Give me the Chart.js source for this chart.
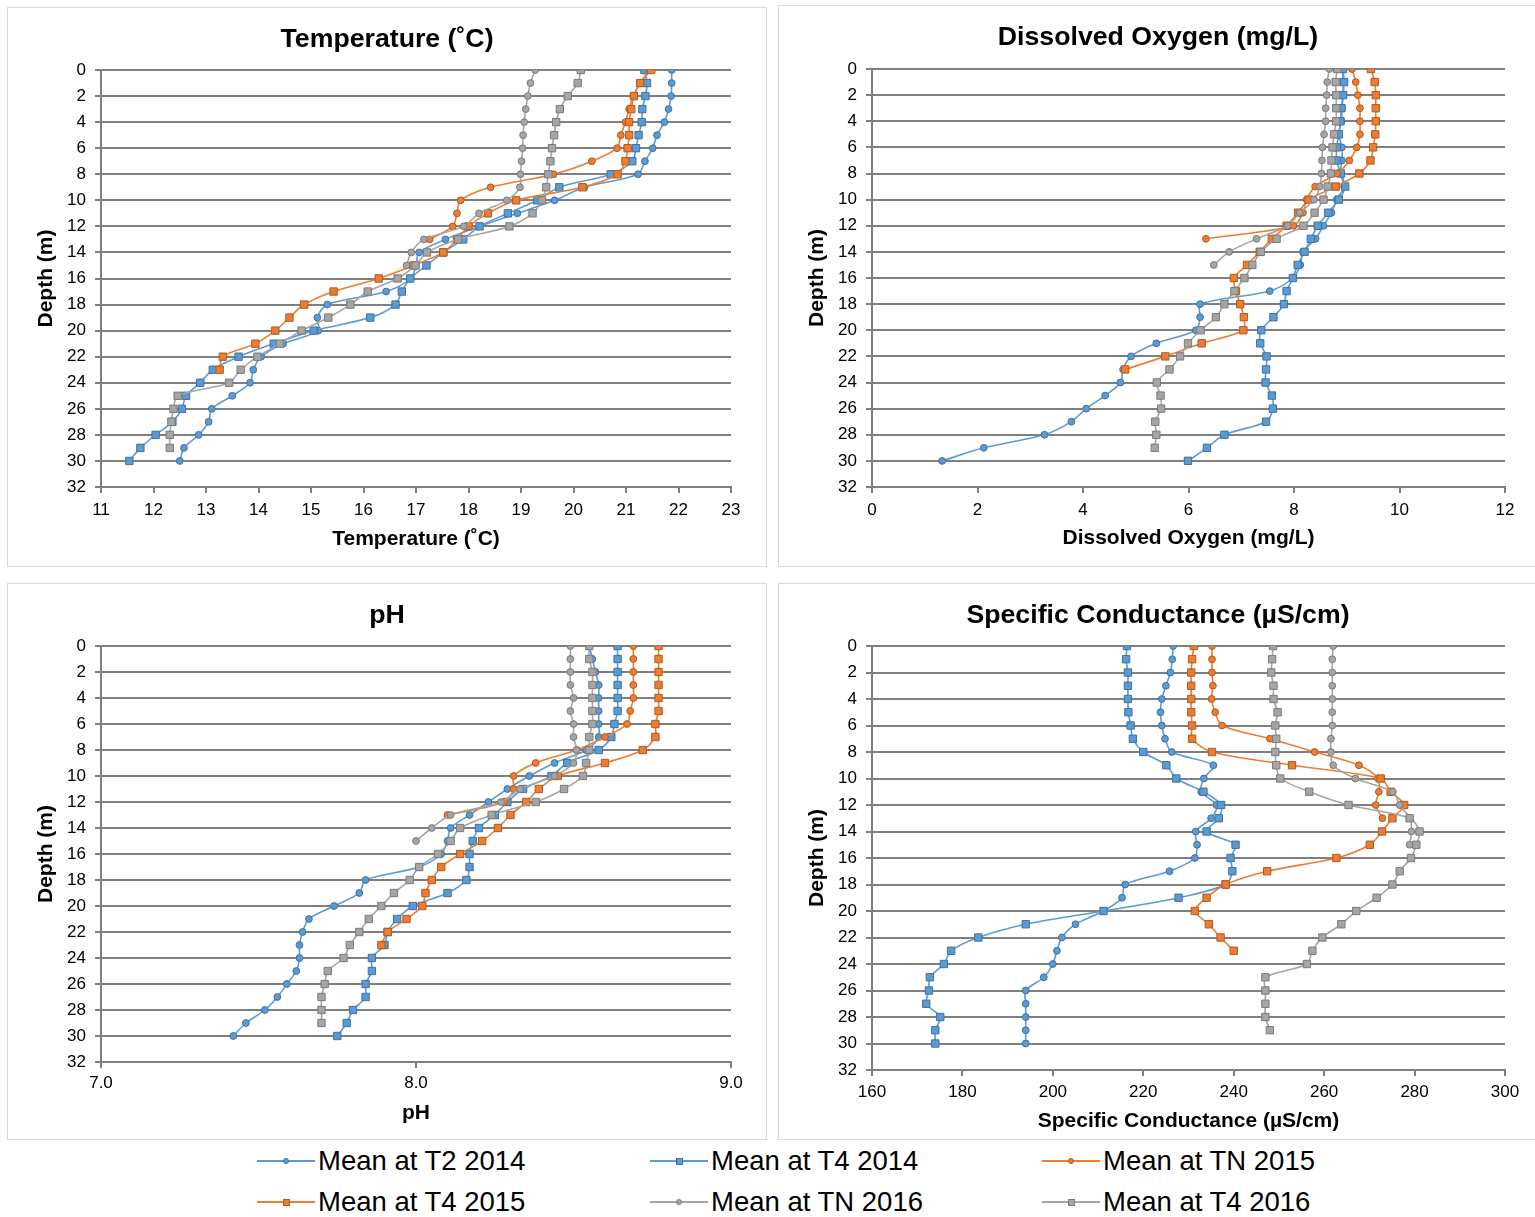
<!DOCTYPE html>
<html>
<head>
<meta charset="utf-8">
<script src="https://cdn.jsdelivr.net/npm/chart.js@4.4.1/dist/chart.umd.min.js"></script>
<style>
  body { margin: 0; background: #fff; width: 1535px; height: 1217px; overflow: hidden; position: relative;
         font-family: "Liberation Sans", Arial, sans-serif; }
  .panel { position: absolute; border: 1px solid #d9d9d9; background: #fff; }
  .panel canvas { display: block; }
  .item { position: absolute; height: 30px; width: 300px; }
  .item .ln { position: absolute; left: 0; top: 14px; width: 58px; height: 2px; }
  .item .mk { position: absolute; box-sizing: border-box; border: 1px solid; }
  .item .tx { position: absolute; left: 61px; top: 0; font-size: 27.5px; line-height: 30px; color: #000; white-space: nowrap; }
</style>
</head>
<body>
<div class="panel" style="left:7px;top:7px"><canvas id="tempChart" width="758" height="558"></canvas></div>
<div class="panel" style="left:778px;top:5px"><canvas id="doChart" width="758" height="560"></canvas></div>
<div class="panel" style="left:7px;top:583px"><canvas id="phChart" width="758" height="555"></canvas></div>
<div class="panel" style="left:778px;top:583px"><canvas id="scChart" width="758" height="555"></canvas></div>
<div id="legend"></div>

<script>
  // depth (m) of each reading, shared by all panels
  const depths = [0, 1, 2, 3, 4, 5, 6, 7, 8, 9, 10, 11, 12, 13, 14, 15, 16, 17, 18, 19, 20, 21, 22, 23, 24, 25, 26, 27, 28, 29, 30];
  const seriesNames = ["Mean at T2 2014", "Mean at T4 2014", "Mean at TN 2015", "Mean at T4 2015", "Mean at TN 2016", "Mean at T4 2016"];

  // Temperature (˚C)
  const tempT2_2014 = [21.87, 21.87, 21.86, 21.81, 21.73, 21.59, 21.51, 21.36, 21.23, 20.21, 19.64, 18.93, 18.21, 17.56, 17.06, 17.0, 16.9, 16.43, 15.31, 15.12, 15.14, 14.47, 14.05, 13.9, 13.84, 13.5, 13.11, 13.05, 12.86, 12.58, 12.5];
  const tempT4_2014 = [21.35, 21.4, 21.37, 21.31, 21.3, 21.24, 21.19, 21.12, 20.71, 19.73, 19.31, 18.75, 18.21, 17.9, 17.52, 17.2, 16.89, 16.73, 16.61, 16.13, 15.05, 14.29, 13.62, 13.13, 12.89, 12.62, 12.54, 12.36, 12.04, 11.75, 11.54];
  const tempTN_2015 = [21.45, 21.27, 21.14, 21.06, 20.99, 20.9, 20.83, 20.35, 19.62, 18.42, 17.85, 17.78, 17.7, 17.26];
  const tempT4_2015 = [21.48, 21.27, 21.15, 21.1, 21.06, 21.06, 21.03, 20.99, 20.84, 20.17, 18.91, 18.37, 18.0, 17.78, 17.52, 16.95, 16.29, 15.43, 14.87, 14.59, 14.32, 13.94, 13.32, 13.26];
  const tempTN_2016 = [19.27, 19.18, 19.13, 19.09, 19.06, 19.04, 19.03, 19.01, 18.99, 18.98, 18.73, 18.2, 17.91, 17.15, 16.91, 16.82];
  const tempT4_2016 = [20.14, 20.08, 19.89, 19.74, 19.67, 19.63, 19.59, 19.56, 19.52, 19.48, 19.4, 19.22, 18.78, 17.8, 17.21, 16.99, 16.65, 16.08, 15.75, 15.33, 14.82, 14.41, 13.98, 13.66, 13.44, 12.46, 12.38, 12.34, 12.31, 12.31];

  // Dissolved oxygen (mg/L)
  const doT2_2014 = [8.92, 8.93, 8.93, 8.91, 8.9, 8.85, 8.91, 8.91, 8.88, 8.95, 8.81, 8.71, 8.56, 8.41, 8.17, 8.12, 7.98, 7.54, 6.22, 6.22, 6.14, 5.39, 4.91, 4.76, 4.71, 4.42, 4.06, 3.78, 3.27, 2.12, 1.33];
  const doT4_2014 = [8.93, 8.95, 8.93, 8.9, 8.88, 8.85, 8.81, 8.81, 8.89, 8.97, 8.85, 8.65, 8.45, 8.32, 8.2, 8.07, 7.98, 7.86, 7.81, 7.61, 7.38, 7.36, 7.48, 7.47, 7.46, 7.58, 7.6, 7.47, 6.68, 6.35, 5.99];
  const doTN_2015 = [9.1, 9.17, 9.21, 9.25, 9.25, 9.25, 9.19, 9.05, 8.82, 8.4, 8.24, 8.17, 7.99, 6.33];
  const doT4_2015 = [9.46, 9.53, 9.55, 9.55, 9.55, 9.54, 9.5, 9.45, 9.24, 8.79, 8.28, 8.08, 7.86, 7.58, 7.35, 7.11, 6.86, 6.9, 6.98, 7.05, 7.04, 6.25, 5.56, 4.8];
  const doTN_2016 = [8.67, 8.63, 8.62, 8.6, 8.6, 8.57, 8.54, 8.53, 8.52, 8.49, 8.38, 8.11, 7.88, 7.29, 6.77, 6.48];
  const doT4_2016 = [8.82, 8.79, 8.8, 8.8, 8.8, 8.76, 8.73, 8.71, 8.7, 8.64, 8.56, 8.39, 8.18, 7.67, 7.37, 7.21, 7.06, 6.87, 6.68, 6.52, 6.23, 5.99, 5.84, 5.64, 5.4, 5.47, 5.48, 5.37, 5.39, 5.36];

  // pH
  const phT2_2014 = [8.55, 8.56, 8.57, 8.58, 8.58, 8.58, 8.58, 8.58, 8.54, 8.44, 8.36, 8.29, 8.23, 8.17, 8.11, 8.1, 8.08, 8.01, 7.84, 7.82, 7.74, 7.66, 7.64, 7.63, 7.63, 7.62, 7.59, 7.56, 7.52, 7.46, 7.42];
  const phT4_2014 = [8.64, 8.64, 8.64, 8.64, 8.64, 8.64, 8.63, 8.62, 8.58, 8.48, 8.43, 8.34, 8.29, 8.25, 8.2, 8.18, 8.17, 8.17, 8.16, 8.1, 7.99, 7.94, 7.91, 7.9, 7.86, 7.86, 7.84, 7.84, 7.8, 7.78, 7.75];
  const phTN_2015 = [8.69, 8.69, 8.69, 8.69, 8.69, 8.68, 8.67, 8.6, 8.51, 8.38, 8.31, 8.31, 8.28, 8.1];
  const phT4_2015 = [8.77, 8.77, 8.77, 8.77, 8.77, 8.77, 8.76, 8.76, 8.72, 8.6, 8.45, 8.39, 8.35, 8.3, 8.26, 8.21, 8.14, 8.08, 8.05, 8.03, 8.02, 7.97, 7.91, 7.89];
  const phTN_2016 = [8.49, 8.49, 8.49, 8.49, 8.5, 8.49, 8.5, 8.5, 8.51, 8.5, 8.44, 8.33, 8.27, 8.11, 8.05, 8.0];
  const phT4_2016 = [8.55, 8.55, 8.56, 8.56, 8.56, 8.56, 8.56, 8.55, 8.55, 8.54, 8.53, 8.47, 8.38, 8.24, 8.14, 8.11, 8.07, 8.01, 7.98, 7.93, 7.89, 7.85, 7.82, 7.79, 7.77, 7.72, 7.71, 7.7, 7.7, 7.7];

  // Specific conductance (µS/cm)
  const scT2_2014 = [226.6, 226.4, 226.0, 225.0, 224.1, 223.8, 224.1, 224.8, 226.3, 235.5, 233.4, 232.8, 236.2, 235.0, 231.6, 231.9, 231.4, 225.8, 216.0, 215.3, 211.2, 205.0, 202.0, 200.9, 200.0, 198.0, 194.0, 194.0, 194.0, 194.0, 194.0];
  const scT4_2014 = [216.4, 216.2, 216.6, 216.6, 216.6, 216.7, 217.2, 217.7, 220.0, 225.1, 227.3, 233.3, 237.2, 236.7, 234.0, 240.4, 239.3, 239.7, 238.2, 227.8, 211.2, 194.0, 183.5, 177.5, 175.9, 172.8, 172.6, 172.0, 175.1, 174.0, 174.0];
  const scTN_2015 = [235.2, 235.2, 235.2, 235.4, 235.1, 235.9, 237.4, 248.0, 257.9, 267.7, 271.9, 272.1, 271.4, 272.9];
  const scT4_2015 = [231.2, 230.8, 230.6, 230.6, 230.6, 230.6, 230.8, 230.8, 235.2, 252.9, 272.5, 274.7, 277.7, 275.1, 272.8, 270.1, 262.7, 247.4, 238.2, 234.0, 231.4, 234.5, 237.1, 240.0];
  const scTN_2016 = [262.0, 261.8, 261.8, 261.8, 261.8, 261.8, 261.8, 261.5, 261.5, 262.0, 266.9, 275.2, 276.7, 279.0, 279.3, 278.9];
  const scT4_2016 = [248.7, 248.5, 248.3, 248.8, 248.8, 249.7, 249.2, 249.4, 249.2, 249.4, 250.3, 256.7, 265.4, 278.9, 281.1, 280.4, 279.2, 276.7, 275.1, 271.6, 267.1, 263.8, 259.6, 257.4, 256.2, 247.0, 247.0, 247.0, 247.0, 248.0];

  const FONT = "'Liberation Sans', Arial, sans-serif";
  const GRID = "#7f7f7f";
  const blue = { line: "#5b9bd5", fill: "#5b9bd5", edge: "#41719c" };
  const orange = { line: "#ed7d31", fill: "#ed7d31", edge: "#ae5a21" };
  const grey = { line: "#a5a5a5", fill: "#a5a5a5", edge: "#7b7b7b" };
  const styles = [
    { c: blue, square: false }, { c: blue, square: true },
    { c: orange, square: false }, { c: orange, square: true },
    { c: grey, square: false }, { c: grey, square: true }
  ];

  function makeChart(id, p) {
    const datasets = p.series.map((vals, i) => {
      const st = styles[i];
      return {
        label: seriesNames[i],
        data: vals.map((v, k) => ({ x: v, y: depths[k] })),
        showLine: true,
        tension: 0.3,
        borderColor: st.c.line,
        borderWidth: 1.6,
        backgroundColor: st.c.fill,
        pointStyle: st.square ? "rect" : "circle",
        pointRadius: st.square ? 5.2 : 3.4,
        pointBackgroundColor: st.c.fill,
        pointBorderColor: st.c.edge,
        pointBorderWidth: 1,
        order: p.series.length - i
      };
    });

    return new Chart(document.getElementById(id), {
      type: "scatter",
      data: { datasets },
      options: {
        responsive: false,
        animation: false,
        devicePixelRatio: 1,
        layout: { padding: 0 },
        plugins: {
          legend: { display: false },
          tooltip: { enabled: false },
          title: {
            display: true, text: p.title, color: "#000",
            font: { family: FONT, size: 26.7, weight: "bold" },
            padding: { top: 16, bottom: p.top - 16 - 32.04 }
          }
        },
        scales: {
          x: {
            type: "linear", position: "bottom", min: p.min, max: p.max,
            afterFit: (s) => { s.height = p.bottom; },
            ticks: { stepSize: p.step, color: "#000", padding: p.tickPad, font: { family: FONT, size: 17 },
                     callback: p.fmt || ((v) => v) },
            grid: { drawOnChartArea: false, color: GRID, tickLength: 6, lineWidth: 2 },
            border: { display: true, color: GRID, width: 2 },
            title: { display: true, text: p.xTitle, color: "#000", font: { family: FONT, size: 21, weight: "bold" },
                     padding: { top: 0, bottom: p.xTitlePad } }
          },
          y: {
            type: "linear", reverse: true, min: 0, max: 32,
            afterFit: (s) => { s.width = 93; },
            ticks: { stepSize: 2, color: "#000", padding: 9, font: { family: FONT, size: 17 } },
            grid: { color: GRID, lineWidth: 2, tickLength: 6 },
            border: { display: true, color: GRID, width: 2 },
            title: { display: true, text: "Depth (m)", color: "#000", font: { family: FONT, size: 21, weight: "bold" },
                     padding: { top: 25.4, bottom: 0 } }
          },
          // empty spacer on the right so the title stays centred on the panel
          spacer: {
            type: "linear", position: "right", min: 0, max: 1,
            afterFit: (s) => { s.width = p.right; },
            ticks: { display: false },
            grid: { drawOnChartArea: false, drawTicks: false },
            border: { display: false }
          }
        }
      }
    });
  }

  makeChart("tempChart", {
    title: "Temperature (˚C)", xTitle: "Temperature (˚C)", min: 11, max: 23, step: 1,
    series: [tempT2_2014, tempT4_2014, tempTN_2015, tempT4_2015, tempTN_2016, tempT4_2016],
    top: 62, right: 35, bottom: 79, tickPad: 6.8, xTitlePad: 14.4
  });
  makeChart("doChart", {
    title: "Dissolved Oxygen (mg/L)", xTitle: "Dissolved Oxygen (mg/L)", min: 0, max: 12, step: 2,
    series: [doT2_2014, doT4_2014, doTN_2015, doT4_2015, doTN_2016, doT4_2016],
    top: 63, right: 32, bottom: 79, tickPad: 6.8, xTitlePad: 15.4
  });
  makeChart("phChart", {
    title: "pH", xTitle: "pH", min: 7, max: 9, step: 1, fmt: (v) => v.toFixed(1),
    series: [phT2_2014, phT4_2014, phTN_2015, phT4_2015, phTN_2016, phT4_2016],
    top: 62, right: 35, bottom: 77, tickPad: 4.8, xTitlePad: 13.4
  });
  makeChart("scChart", {
    title: "Specific Conductance (µS/cm)", xTitle: "Specific Conductance (µS/cm)", min: 160, max: 300, step: 20,
    series: [scT2_2014, scT4_2014, scTN_2015, scT4_2015, scTN_2016, scT4_2016],
    top: 62, right: 32, bottom: 69, tickPad: 5.8, xTitlePad: 5.4
  });

  // shared legend under the four panels
  const legendCols = [257, 650, 1042];
  const legendRows = [1146, 1187];
  const legend = document.getElementById("legend");
  seriesNames.forEach((name, i) => {
    const st = styles[i];
    const item = document.createElement("div");
    item.className = "item";
    item.style.left = legendCols[i % 3] + "px";
    item.style.top = legendRows[Math.floor(i / 3)] + "px";
    const ln = document.createElement("span");
    ln.className = "ln";
    ln.style.background = st.c.line;
    const mk = document.createElement("span");
    mk.className = "mk";
    const sz = st.square ? 7 : 6;
    mk.style.width = sz + "px";
    mk.style.height = sz + "px";
    mk.style.left = (29 - sz / 2) + "px";
    mk.style.top = (15 - sz / 2) + "px";
    mk.style.background = st.c.fill;
    mk.style.borderColor = st.c.edge;
    if (!st.square) mk.style.borderRadius = "50%";
    const tx = document.createElement("span");
    tx.className = "tx";
    tx.textContent = name;
    item.append(ln, mk, tx);
    legend.appendChild(item);
  });
</script>
</body>
</html>
